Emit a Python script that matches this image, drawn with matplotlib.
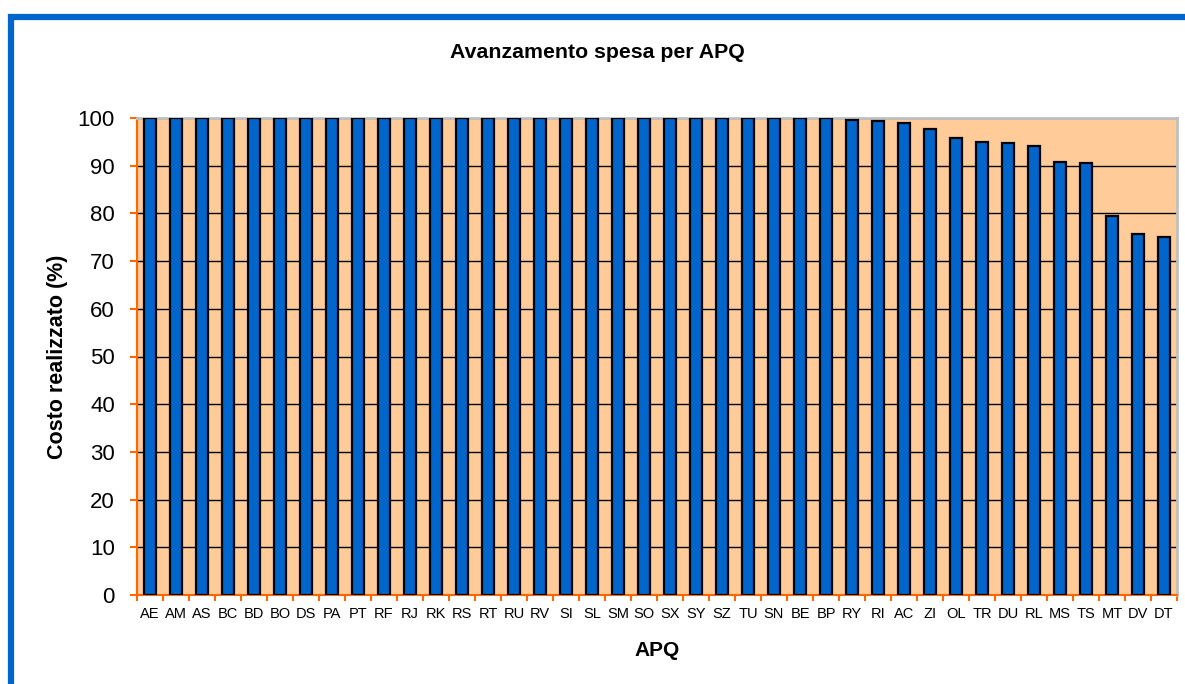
import numpy as np
import matplotlib.pyplot as plt
from matplotlib.patches import Rectangle

plt.rcParams['font.family'] = ['Liberation Sans', 'DejaVu Sans']

# Spending progress per APQ (percent of cost realised)
apq = ["AE", "AM", "AS", "BC", "BD", "BO", "DS", "PA", "PT", "RF", "RJ", "RK",
       "RS", "RT", "RU", "RV", "SI", "SL", "SM", "SO", "SX", "SY", "SZ", "TU",
       "SN", "BE", "BP", "RY", "RI", "AC", "ZI", "OL", "TR", "DU", "RL", "MS",
       "TS", "MT", "DV", "DT"]
costo = [100, 100, 100, 100, 100, 100, 100, 100, 100, 100, 100, 100,
         100, 100, 100, 100, 100, 100, 100, 100, 100, 100, 100, 100,
         100, 100, 100, 99.6, 99.3, 99.0, 97.6, 95.9, 95.0, 94.7, 94.2, 90.8,
         90.6, 79.4, 75.7, 75.1]

orange = "#FF6600"
fig = plt.figure(figsize=(11.85, 6.84), dpi=100)
ax = fig.add_axes([137 / 1185, 1 - 595 / 684, 1040 / 1185, 477 / 684])
ax.set_facecolor("#FFCC99")

x = np.arange(len(apq))
ax.bar(x, costo, width=0.46, color="#0066CC", edgecolor="black", linewidth=1.6, zorder=3)

ax.set_xlim(-0.5, len(apq) - 0.5)
ax.set_ylim(0, 100)
ax.set_yticks(np.arange(0, 101, 10))
ax.yaxis.grid(True, color="black", linewidth=1, zorder=1)
ax.set_axisbelow(True)

ax.set_xticks(x)
ax.set_xticklabels(apq, fontsize=10.5)
ax.set_xticks(np.arange(-0.5, len(apq), 1), minor=True)
ax.tick_params(axis="x", which="major", length=0, pad=9)
ax.tick_params(axis="x", which="minor", length=4, width=1.5, color=orange)
ax.tick_params(axis="y", length=5, width=1.5, color=orange, labelsize=16, pad=11)

for side in ("left", "bottom"):
    ax.spines[side].set_color(orange)
    ax.spines[side].set_linewidth(1.5)
for side in ("top", "right"):
    ax.spines[side].set_color("#C0C0C0")
    ax.spines[side].set_linewidth(2)

ax.set_xlabel("APQ", fontsize=15, fontweight="bold", labelpad=14)
ax.set_ylabel("Costo realizzato (%)", fontsize=15.5, fontweight="bold", labelpad=7)
fig.text(0.5045, 1 - 52 / 684, "Avanzamento spesa per APQ", fontsize=15.3,
         fontweight="bold", ha="center", va="center")

# blue frame around the chart area
fig.patches.append(Rectangle((10.5 / 1185, -0.1), 1.2, 1 - 17 / 684 + 0.1,
                             transform=fig.transFigure, fill=False,
                             edgecolor="#0066CC", linewidth=4.5))

fig.savefig("out.png", dpi=100)
